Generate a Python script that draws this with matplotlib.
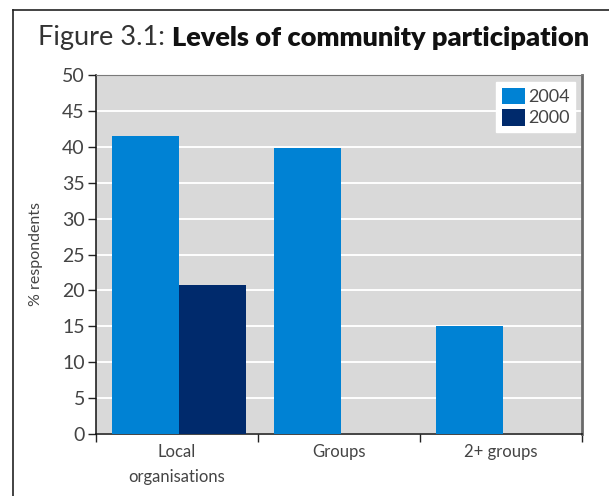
import matplotlib
matplotlib.use("Agg")
import matplotlib.pyplot as plt
from matplotlib.lines import Line2D
import numpy as np

categories = ["Local\norganisations", "Groups", "2+ groups"]
series_names = ["2004", "2000"]
values_2004 = [41.5, 39.8, 15.0]
values_2000 = [20.8, 0.0, 0.0]
yticks = [0, 5, 10, 15, 20, 25, 30, 35, 40, 45, 50]

c2004 = "#0082d4"
c2000 = "#002a6c"
txt = "#444444"
FONT = "Lato"

fig = plt.figure(figsize=(6.09, 4.96), dpi=100)
ax = fig.add_axes([96/609, 62/496, (582-96)/609, (434-75)/496])
ax.set_facecolor("#d9d9d9")

x = np.arange(len(categories))
w = 0.414
ax.bar(x - 0.403, values_2004, width=w, align="edge", color=c2004, label=series_names[0], zorder=3)
ax.bar(x + 0.011, values_2000, width=w, align="edge", color=c2000, label=series_names[1], zorder=3)

ax.set_xlim(-0.5, len(categories) - 0.5)
ax.set_ylim(0, 50)
ax.set_yticks(yticks)
ax.set_yticklabels([str(v) for v in yticks], fontsize=14, color=txt, family=FONT)
ax.yaxis.grid(True, color="white", linewidth=1.4, zorder=1)
ax.set_axisbelow(True)

ax.set_xticks(x)
ax.set_xticklabels(categories, fontsize=12, color=txt, family=FONT, linespacing=1.75)
ax.tick_params(axis="x", which="major", length=0, pad=7)
ax.set_xticks(np.arange(-0.5, len(categories), 1.0), minor=True)
ax.tick_params(axis="x", which="minor", length=6, width=1, color="#222222", direction="out")
ax.tick_params(axis="y", length=6, width=1, color="#222222", direction="out", pad=2)

ax.spines["left"].set_color("#111111")
ax.spines["bottom"].set_color("#111111")
ax.spines["left"].set_linewidth(1.1)
ax.spines["bottom"].set_linewidth(1.1)
ax.spines["top"].set_color("#7a7a7a")
ax.spines["right"].set_color("#6a6a6a")
ax.spines["right"].set_linewidth(2)

ax.set_ylabel("% respondents", fontsize=11.5, color=txt, family=FONT, labelpad=14)

leg = ax.legend(loc="upper right", bbox_to_anchor=(0.993, 0.99), frameon=True, fancybox=False,
                edgecolor="white", framealpha=1, prop={"family": FONT, "size": 13},
                handlelength=1.3, handleheight=1.05, handletextpad=0.15, labelspacing=0.2,
                borderpad=0.3, borderaxespad=0.2)
for t in leg.get_texts():
    t.set_color(txt)

# Title
t1 = fig.text(38/609, 1 - 38/496, "Figure 3.1: ", fontsize=19.5, family=FONT, fontweight="normal",
              color="#333333", va="center", ha="left")
fig.canvas.draw()
bb = t1.get_window_extent()
fig.text(bb.x1/609, 1 - 38/496, "Levels of community participation", fontsize=19.5, family=FONT,
         fontweight="heavy", color="#111111", va="center", ha="left")

# Frame lines
fig.add_artist(Line2D([13/609, 13/609], [0, 1 - 9.5/496], transform=fig.transFigure, color="#222222", lw=1.2))
fig.add_artist(Line2D([13/609, 1], [1 - 9.5/496, 1 - 9.5/496], transform=fig.transFigure, color="#222222", lw=1.2))

fig.savefig("out.png", dpi=100, facecolor="white")
